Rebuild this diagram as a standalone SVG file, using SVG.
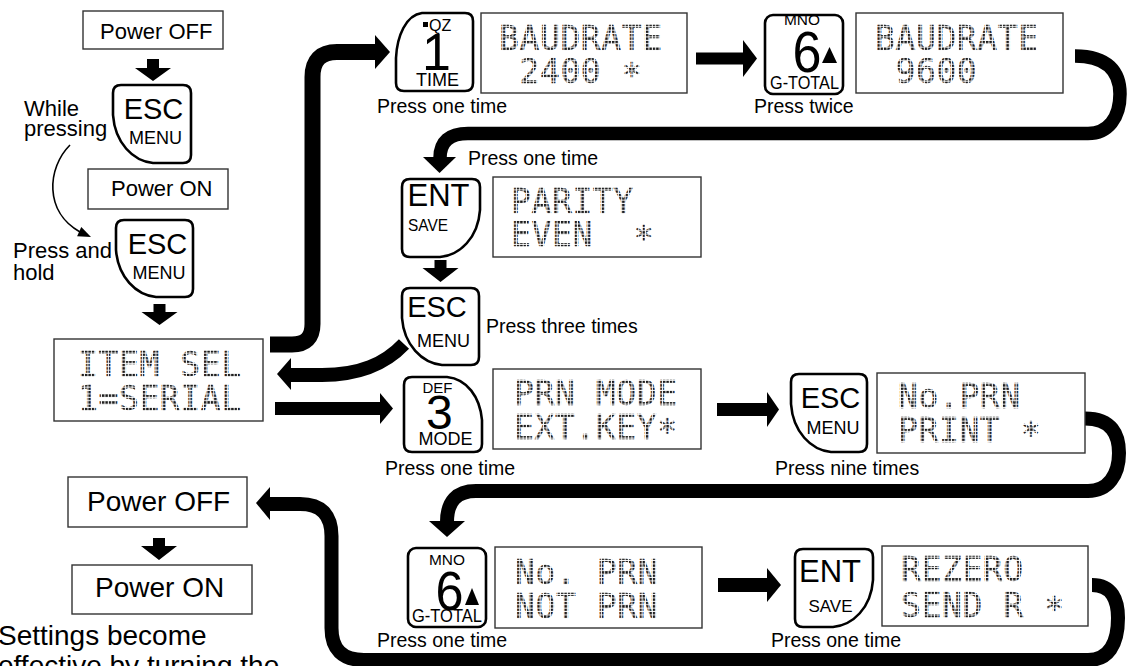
<svg xmlns="http://www.w3.org/2000/svg" width="1127" height="666" viewBox="0 0 1127 666">
<defs>
<pattern id="dots" width="3.4" height="3.4" patternUnits="userSpaceOnUse"><rect width="2.4" height="2.4" fill="#1a1a1a"/></pattern>
<style>
.box{fill:#fff;stroke:#333;stroke-width:1.4}
.key{fill:#fff;stroke:#000;stroke-width:2.6;stroke-linejoin:round}
.t{font-family:"Liberation Sans",Arial,sans-serif;fill:#000}
.lbl{font-family:"Liberation Sans",Arial,sans-serif;font-size:19.5px;fill:#000}
.lcd{font-family:"DejaVu Sans Mono","Liberation Mono",monospace;font-weight:normal;font-size:33px;letter-spacing:0.6px;fill:url(#dots);stroke:url(#dots);stroke-width:0.4;white-space:pre}
.conn{fill:none;stroke:#000;stroke-width:15}
.head{fill:#000}
.m{text-anchor:middle}
</style>
</defs>
<rect width="1127" height="666" fill="#fff"/>

<g id="connectors">
  <path class="conn" d="M270,344.5 H292 Q312.5,344.5 312.5,324 V77 Q312.5,52 337,52 H376" style="stroke-width:16"/>
  <polygon class="head" points="375,35 390,52 375,69"/>
  <path class="conn" d="M1075,56 C1108,56 1120,72 1120,94 C1120,118 1108,133.5 1088,133.5 H468 Q440,133.5 440,158" style="stroke-width:13.5"/>
  <polygon class="head" points="423,157 456,157 439.5,173"/>
  <path class="conn" d="M1085,418.5 C1112,418.5 1119,435 1119,453 C1119,475 1108,491 1088,491 H476 Q447,491 447,522" style="stroke-width:14"/>
  <polygon class="head" points="429,521 465,521 447,537"/>
  <path class="conn" d="M1092,585 C1112,585 1118,600 1118,618 C1118,645 1108,660 1088,660 H364 Q331.5,660 331.5,628 V536 Q331.5,504 300,504 H269" style="stroke-width:14"/>
  <polygon class="head" points="270,487 256,503 270,520"/>
  <path class="conn" d="M404,344 C385,364 360,375 322,375 H289" style="stroke-width:14"/>
  <polygon class="head" points="291,358 277,374 291,390"/>
  <path class="conn" d="M696,58.5 H744" style="stroke-width:12"/>
  <polygon class="head" points="743,40 757,58.5 743,77"/>
  <path class="conn" d="M275,408.5 H381" style="stroke-width:13"/>
  <polygon class="head" points="380,393 393,408.5 380,424"/>
  <path class="conn" d="M717,409.5 H768" style="stroke-width:13"/>
  <polygon class="head" points="767,392 779,409.5 767,427"/>
  <path class="conn" d="M718,585 H768" style="stroke-width:14"/>
  <polygon class="head" points="767,568 781,585 767,602"/>
  <polygon class="head" points="147,59 159,59 159,68 171,68 153,81 135,68 147,68"/>
  <polygon class="head" points="153.5,304 165.5,304 165.5,312 177.5,312 159.5,325 141.5,312 153.5,312"/>
  <polygon class="head" points="434.5,260 446.5,260 446.5,268 458.5,268 440.5,282 422.5,268 434.5,268"/>
  <polygon class="head" points="153,538 165,538 165,546 177,546 159,560 141,546 153,546"/>
  <path d="M70,145 C47,168 44,212 80,232" fill="none" stroke="#000" stroke-width="1.6"/>
  <polygon class="head" points="91,237 81.3,227.1 77.1,236.3"/>
</g>

<g id="power-off-1">
  <rect class="box" x="83" y="11" width="140" height="38"/>
  <text class="t" x="100" y="39" font-size="22">Power OFF</text>
</g>
<g id="key-esc-1">
  <path class="key" d="M121,85 H183 Q191,85 191,93 V155 Q191,163 183,163 H153 C133,161 115,143 113,115 V93 Q113,85 121,85 Z"/>
  <text class="t m" x="153.5" y="119" font-size="29">ESC</text>
  <text class="t m" x="155.5" y="144" font-size="18">MENU</text>
</g>
<g id="label-while">
  <text class="t" x="24" y="116" font-size="22">While</text>
  <text class="t" x="24" y="136" font-size="22">pressing</text>
</g>
<g id="power-on-1">
  <rect class="box" x="88" y="169" width="140" height="40"/>
  <text class="t" x="111" y="196" font-size="22">Power ON</text>
</g>
<g id="label-hold">
  <text class="t" x="13" y="258" font-size="22">Press and</text>
  <text class="t" x="13" y="280" font-size="22">hold</text>
</g>
<g id="key-esc-2">
  <path class="key" d="M124,220 H185 Q193,220 193,228 V289 Q193,297 185,297 H156 C136,295 118,277 116,250 V228 Q116,220 124,220 Z"/>
  <text class="t m" x="157.5" y="254" font-size="29">ESC</text>
  <text class="t m" x="159" y="279" font-size="18">MENU</text>
</g>
<g id="lcd-item-sel">
  <rect class="box" x="54" y="339" width="209" height="82"/>
  <text class="lcd" x="78" y="376" xml:space="preserve">ITEM SEL</text>
  <text class="lcd" x="78" y="410" xml:space="preserve">1=SERIAL</text>
</g>

<g id="key-1-time">
  <path class="key" d="M422,13 H465 Q473,13 473,21 V83 Q473,91 465,91 H404 Q396,91 396,83 V58 C397,36 406,15 422,13 Z"/>
  <rect x="423" y="22" width="5" height="5" fill="#000"/>
  <text class="t" x="429" y="31" font-size="16">QZ</text>
  <text class="t" x="422" y="70" font-size="52">1</text>
  <text class="t m" x="437.5" y="86" font-size="18">TIME</text>
  <text class="lbl" x="377" y="113">Press one time</text>
</g>
<g id="lcd-baud-2400">
  <rect class="box" x="481" y="13" width="206" height="80"/>
  <text class="lcd" x="499" y="50" xml:space="preserve">BAUDRATE</text>
  <text class="lcd" x="499" y="83" xml:space="preserve"> 2400 <tspan dy="4">*</tspan></text>
</g>
<g id="key-6-top">
  <rect class="key" x="765" y="15" width="78" height="79" rx="8"/>
  <text class="t m" x="802" y="25" font-size="14" textLength="36" lengthAdjust="spacingAndGlyphs">MNO</text>
  <text class="t m" x="807" y="72" font-size="58" textLength="29" lengthAdjust="spacingAndGlyphs">6</text>
  <polygon points="822,63 837,63 829.5,47" fill="#000"/>
  <text class="t m" x="804.5" y="89" font-size="18" textLength="69" lengthAdjust="spacingAndGlyphs">G-TOTAL</text>
  <text class="lbl" x="754" y="113">Press twice</text>
</g>
<g id="lcd-baud-9600">
  <rect class="box" x="856" y="13" width="207" height="80"/>
  <text class="lcd" x="875" y="50" xml:space="preserve">BAUDRATE</text>
  <text class="lcd" x="875" y="83" xml:space="preserve"> 9600</text>
</g>

<g id="key-ent-1">
  <path class="key" d="M410,179 H472 Q480,179 480,187 V210 C478,238 460,255 440,257 H410 Q402,257 402,249 V187 Q402,179 410,179 Z"/>
  <text class="t m" x="438.5" y="206" font-size="31">ENT</text>
  <text class="t m" x="428" y="231" font-size="17" textLength="40" lengthAdjust="spacingAndGlyphs">SAVE</text>
  <text class="lbl" x="468" y="165">Press one time</text>
</g>
<g id="lcd-parity">
  <rect class="box" x="493" y="177" width="208" height="80"/>
  <text class="lcd" x="511" y="213" xml:space="preserve">PARITY</text>
  <text class="lcd" x="511" y="246" xml:space="preserve">EVEN  <tspan dy="4">*</tspan></text>
</g>
<g id="key-esc-3">
  <path class="key" d="M410,288 H471 Q479,288 479,296 V357 Q479,365 471,365 H442 C422,363 404,345 402,318 V296 Q402,288 410,288 Z"/>
  <text class="t m" x="437" y="317" font-size="29">ESC</text>
  <text class="t m" x="443.5" y="347" font-size="18">MENU</text>
  <text class="lbl" x="486" y="333">Press three times</text>
</g>

<g id="key-def-3">
  <path class="key" d="M412,377 H447 C467,379 480,397 482,420 V444 Q482,452 474,452 H412 Q404,452 404,444 V385 Q404,377 412,377 Z"/>
  <text class="t m" x="437.5" y="393" font-size="15">DEF</text>
  <text class="t" x="426" y="429" font-size="48">3</text>
  <text class="t m" x="445.5" y="445" font-size="18">MODE</text>
  <text class="lbl" x="385" y="475">Press one time</text>
</g>
<g id="lcd-prn-mode">
  <rect class="box" x="493" y="369" width="208" height="80"/>
  <text class="lcd" x="514" y="405" xml:space="preserve">PRN MODE</text>
  <text class="lcd" x="514" y="439" xml:space="preserve">EXT.KEY<tspan dy="4">*</tspan></text>
</g>
<g id="key-esc-4">
  <path class="key" d="M799,374 H859 Q867,374 867,382 V444 Q867,452 859,452 H831 C811,450 793,432 791,404 V382 Q791,374 799,374 Z"/>
  <text class="t m" x="830.5" y="408" font-size="29">ESC</text>
  <text class="t m" x="833" y="434" font-size="18">MENU</text>
  <text class="lbl" x="775" y="475">Press nine times</text>
</g>
<g id="lcd-no-prn-print">
  <rect class="box" x="877" y="373" width="208" height="80"/>
  <text class="lcd" x="898" y="408" xml:space="preserve">No.PRN</text>
  <text class="lcd" x="898" y="442" xml:space="preserve">PRINT <tspan dy="4">*</tspan></text>
</g>

<g id="key-6-bottom">
  <rect class="key" x="408" y="548" width="78" height="79" rx="8"/>
  <text class="t m" x="447" y="565" font-size="14" textLength="36" lengthAdjust="spacingAndGlyphs">MNO</text>
  <text class="t m" x="449.5" y="610" font-size="56" textLength="28" lengthAdjust="spacingAndGlyphs">6</text>
  <polygon points="465,605 479,605 472,588" fill="#000"/>
  <text class="t m" x="447" y="622" font-size="18" textLength="70" lengthAdjust="spacingAndGlyphs">G-TOTAL</text>
  <text class="lbl" x="377" y="647">Press one time</text>
</g>
<g id="lcd-no-prn-not">
  <rect class="box" x="495" y="547" width="207" height="81"/>
  <text class="lcd" x="515" y="584" xml:space="preserve">No. PRN</text>
  <text class="lcd" x="515" y="618" xml:space="preserve">NOT PRN</text>
</g>
<g id="key-ent-2">
  <path class="key" d="M803,549 H865 Q873,549 873,557 V580 C871,608 853,625 833,627 H803 Q795,627 795,619 V557 Q795,549 803,549 Z"/>
  <text class="t m" x="830" y="582" font-size="31">ENT</text>
  <text class="t m" x="830.5" y="612" font-size="17" textLength="44" lengthAdjust="spacingAndGlyphs">SAVE</text>
  <text class="lbl" x="771" y="647">Press one time</text>
</g>
<g id="lcd-rezero">
  <rect class="box" x="882" y="546" width="206" height="80"/>
  <text class="lcd" x="901" y="581" xml:space="preserve">REZERO</text>
  <text class="lcd" x="901" y="617" xml:space="preserve">SEND R <tspan dy="4">*</tspan></text>
</g>

<g id="power-off-2">
  <rect class="box" x="68" y="477" width="179" height="50"/>
  <text class="t" x="87" y="511" font-size="28">Power OFF</text>
</g>
<g id="power-on-2">
  <rect class="box" x="72" y="565" width="180" height="49"/>
  <text class="t" x="95" y="597" font-size="28">Power ON</text>
</g>
<g id="note">
  <text class="t" x="-2" y="645" font-size="28">Settings become</text>
  <text class="t" x="-2" y="675" font-size="28">effective by turning the</text>
</g>
</svg>
